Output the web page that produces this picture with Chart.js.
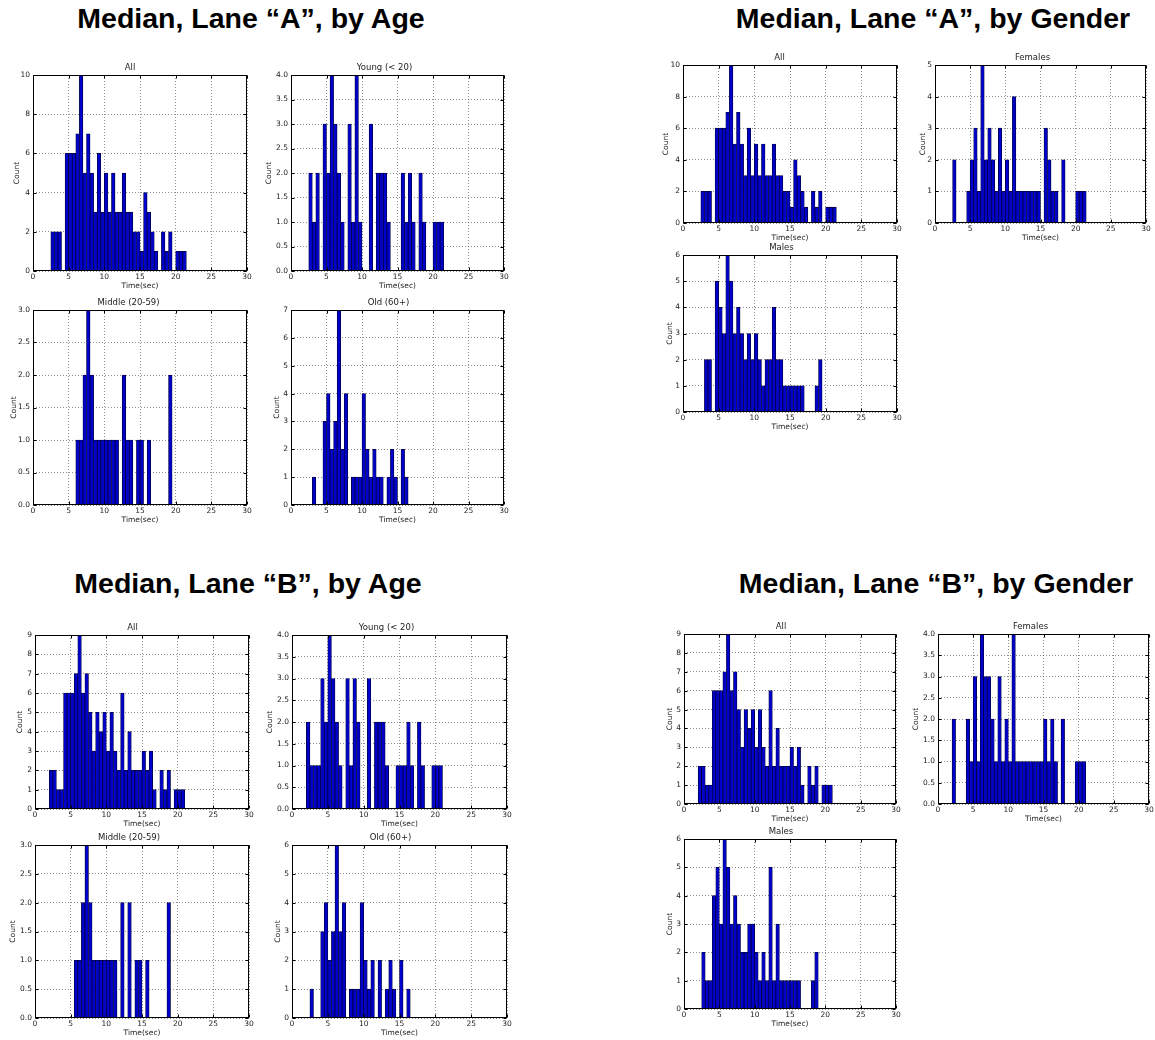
<!DOCTYPE html>
<html><head><meta charset="utf-8">
<script src="https://cdn.jsdelivr.net/npm/chart.js@4.4.0/dist/chart.umd.min.js"></script>
<style>
body{margin:0;background:#fff;width:1155px;height:1040px;position:relative;overflow:hidden;font-family:"Liberation Sans",Arial,sans-serif;}
.gt{position:absolute;font-weight:bold;font-size:28.5px;line-height:32px;white-space:nowrap;transform:translateX(-50%);color:#000;}
canvas{position:absolute;}
</style></head><body>
<div class="gt" style="left:251px;top:2px">Median, Lane “A”, by Age</div>
<div class="gt" style="left:933px;top:2px">Median, Lane “A”, by Gender</div>
<div class="gt" style="left:248px;top:567px">Median, Lane “B”, by Age</div>
<div class="gt" style="left:936px;top:567px">Median, Lane “B”, by Gender</div>
<script>
// ---- data: histogram counts per 0.5 s bin, first bin left edge given by *_start ----
const BIN_WIDTH = 0.5;
const X_TICKS = [0, 5, 10, 15, 20, 25, 30];

const laneA_all_start = 2.5;
const laneA_all = [2,2,2,0,6,6,6,7,10,5,7,5,3,6,3,5,3,5,3,3,5,3,3,2,2,1,4,3,2,1,0,2,1,2,0,1,1,1];
const laneA_young_start = 2.5;
const laneA_young = [2,1,2,0,3,2,4,3,2,1,0,3,1,4,1,0,0,3,0,2,2,2,1,0,0,0,2,1,2,1,0,2,1,0,0,1,1,1];
const laneA_middle_start = 6.0;
const laneA_middle = [1,1,2,3,2,1,1,1,1,1,1,1,0,2,1,1,0,1,1,0,1,0,0,0,0,0,2];
const laneA_old_start = 3.0;
const laneA_old = [1,0,0,3,4,2,3,7,2,4,0,1,1,1,4,2,1,2,1,1,0,1,2,1,0,2,1];
const laneA_females_start = 2.5;
const laneA_females = [2,0,0,0,1,2,3,1,5,2,3,2,1,3,1,2,1,4,1,1,1,1,1,1,1,0,3,2,1,1,0,2,0,0,0,1,1,1];
const laneA_males_start = 3.0;
const laneA_males = [2,2,0,5,4,3,6,5,3,4,3,2,3,2,3,2,1,2,2,4,2,2,1,1,1,1,1,1,0,0,0,1,2];

const laneB_all_start = 2.0;
const laneB_all = [2,2,1,1,6,6,6,7,9,6,7,5,3,5,4,5,3,5,3,2,6,2,4,2,2,2,3,2,3,1,0,2,1,2,0,1,1,1];
const laneB_young_start = 2.0;
const laneB_young = [2,1,1,1,3,2,4,3,2,1,0,3,1,3,2,0,0,3,0,2,2,2,1,0,0,1,1,1,2,1,0,2,1,0,0,1,1,1];
const laneB_middle_start = 5.5;
const laneB_middle = [1,1,2,3,2,1,1,1,1,1,1,1,0,2,0,2,0,1,1,0,1,0,0,0,0,0,2];
const laneB_old_start = 2.5;
const laneB_old = [1,0,0,3,4,2,3,6,3,4,0,1,1,1,4,2,1,2,0,2,0,1,2,1,0,2,0,1];
const laneB_females_start = 2.0;
const laneB_females = [2,0,0,0,2,1,3,1,4,3,3,2,1,3,1,2,1,4,1,1,1,1,1,1,1,1,2,1,2,1,0,2,0,0,0,1,1,1];
const laneB_males_start = 2.5;
const laneB_males = [2,1,1,4,5,3,6,5,3,4,3,2,2,3,3,2,1,2,1,5,1,3,1,1,1,1,1,1,0,0,0,1,2];

// y tick configs (max, step, decimals)
const Y_INT10 = [10, 2, 0], Y_9 = [9, 1, 0], Y_7 = [7, 1, 0], Y_6 = [6, 1, 0], Y_5 = [5, 1, 0];
const Y_4D = [4, 0.5, 1], Y_3D = [3, 0.5, 1];

// ---- layout (plot rectangles in page pixels) ----
const panels = [
  {title:'All', counts:laneA_all, start:laneA_all_start, yt:Y_INT10, L:33, R:247, T:75, B:271, gap:15},
  {title:'Young (< 20)', counts:laneA_young, start:laneA_young_start, yt:Y_4D, L:291, R:504, T:75, B:271, gap:21},
  {title:'Middle (20-59)', counts:laneA_middle, start:laneA_middle_start, yt:Y_3D, L:33, R:247, T:310, B:505, gap:18},
  {title:'Old (60+)', counts:laneA_old, start:laneA_old_start, yt:Y_7, L:291, R:504, T:310, B:505, gap:13},
  {title:'All', counts:laneA_all, start:laneA_all_start, yt:Y_INT10, L:683, R:897, T:65, B:223, gap:16},
  {title:'Females', counts:laneA_females, start:laneA_females_start, yt:Y_5, L:935, R:1146, T:65, B:223, gap:11},
  {title:'Males', counts:laneA_males, start:laneA_males_start, yt:Y_6, L:683, R:897, T:255, B:412, gap:12},
  {title:'All', counts:laneB_all, start:laneB_all_start, yt:Y_9, L:35, R:249, T:635, B:809, gap:14},
  {title:'Young (< 20)', counts:laneB_young, start:laneB_young_start, yt:Y_4D, L:292, R:507, T:635, B:809, gap:21},
  {title:'Middle (20-59)', counts:laneB_middle, start:laneB_middle_start, yt:Y_3D, L:35, R:249, T:845, B:1018, gap:21},
  {title:'Old (60+)', counts:laneB_old, start:laneB_old_start, yt:Y_6, L:292, R:507, T:845, B:1018, gap:13},
  {title:'All', counts:laneB_all, start:laneB_all_start, yt:Y_9, L:684, R:896, T:634, B:804, gap:13},
  {title:'Females', counts:laneB_females, start:laneB_females_start, yt:Y_4D, L:938, R:1149, T:634, B:804, gap:21},
  {title:'Males', counts:laneB_males, start:laneB_males_start, yt:Y_6, L:684, R:896, T:839, B:1009, gap:13}
];

Chart.defaults.font.family = "'DejaVu Sans', sans-serif";
Chart.defaults.color = '#222';

const framePlugin = {
  id: 'frame',
  afterDatasetsDraw(chart) {
    const {ctx, chartArea: a, scales: {x, y}} = chart;
    ctx.save();
    ctx.strokeStyle = '#000';
    ctx.lineWidth = 1;
    const l = Math.round(a.left) + 0.5, t = Math.round(a.top) + 0.5;
    const r = Math.round(a.right) - 0.5, b = Math.round(a.bottom) - 0.5;
    ctx.strokeRect(l, t, r - l, b - t);
    ctx.beginPath();
    x.ticks.forEach((tk, i) => {
      const px = Math.round(x.getPixelForTick(i)) + 0.5;
      ctx.moveTo(px, b); ctx.lineTo(px, b - 3);
      ctx.moveTo(px, t); ctx.lineTo(px, t + 3);
    });
    y.ticks.forEach((tk, i) => {
      const py = Math.round(y.getPixelForTick(i)) + 0.5;
      ctx.moveTo(l, py); ctx.lineTo(l + 3, py);
      ctx.moveTo(r, py); ctx.lineTo(r - 3, py);
    });
    ctx.stroke();
    ctx.restore();
  }
};

function buildPanel(p) {
  const TOP = 18, XH = 20, RP = 8;
  const yW = Math.round(p.gap + 4.5);
  const w = Math.round(p.R - p.L + yW + RP), h = Math.round(p.B - p.T + TOP + XH);
  const c = document.createElement('canvas');
  c.width = w; c.height = h;
  c.style.left = (p.L - yW) + 'px'; c.style.top = (p.T - TOP) + 'px';
  c.style.width = w + 'px'; c.style.height = h + 'px';
  document.body.appendChild(c);
  const pts = p.counts.map((v, i) => ({x: p.start + BIN_WIDTH * (i + 0.5), y: v}));
  const [yMax, yStep, dec] = p.yt;
  const grid = {color: 'rgba(0,0,0,0.55)', lineWidth: 0.8, drawTicks: false, offset: false};
  new Chart(c, {
    type: 'bar',
    data: {datasets: [{
      data: pts,
      backgroundColor: '#0000cc',
      borderColor: '#000040',
      borderWidth: 0.8,
      borderSkipped: false,
      barPercentage: 1,
      categoryPercentage: 1
    }]},
    options: {
      responsive: false,
      animation: false,
      devicePixelRatio: 1,
      layout: {padding: {left: 0, right: RP, top: 0, bottom: 0}},
      plugins: {
        legend: {display: false},
        tooltip: {enabled: false},
        title: {display: true, text: p.title, font: {size: 8.5, weight: 'normal'}, color: '#222',
                padding: {top: 5.3, bottom: 2.5}}
      },
      scales: {
        x: {
          type: 'linear', min: 0, max: 30, offset: false,
          afterBuildTicks: s => { s.ticks = X_TICKS.map(v => ({value: v})); },
          afterFit: s => { s.height = XH; },
          ticks: {font: {size: 7.5}, padding: 2, maxRotation: 0, autoSkip: false,
                  callback: v => String(v)},
          grid: grid,
          border: {display: false, dash: [1, 2]},
          title: {display: true, text: 'Time(sec)', font: {size: 7.5}, padding: {top: 0, bottom: 0.5}}
        },
        y: {
          type: 'linear', min: 0, max: yMax,
          afterFit: s => { s.width = yW; },
          ticks: {stepSize: yStep, font: {size: 7.5}, padding: 3,
                  callback: v => Number(v).toFixed(dec)},
          grid: grid,
          border: {display: false, dash: [1, 2]},
          title: {display: true, text: 'Count', font: {size: 7.5}, padding: {top: 0, bottom: 0}}
        }
      }
    },
    plugins: [framePlugin]
  });
}

panels.forEach(buildPanel);
</script>
</body></html>
